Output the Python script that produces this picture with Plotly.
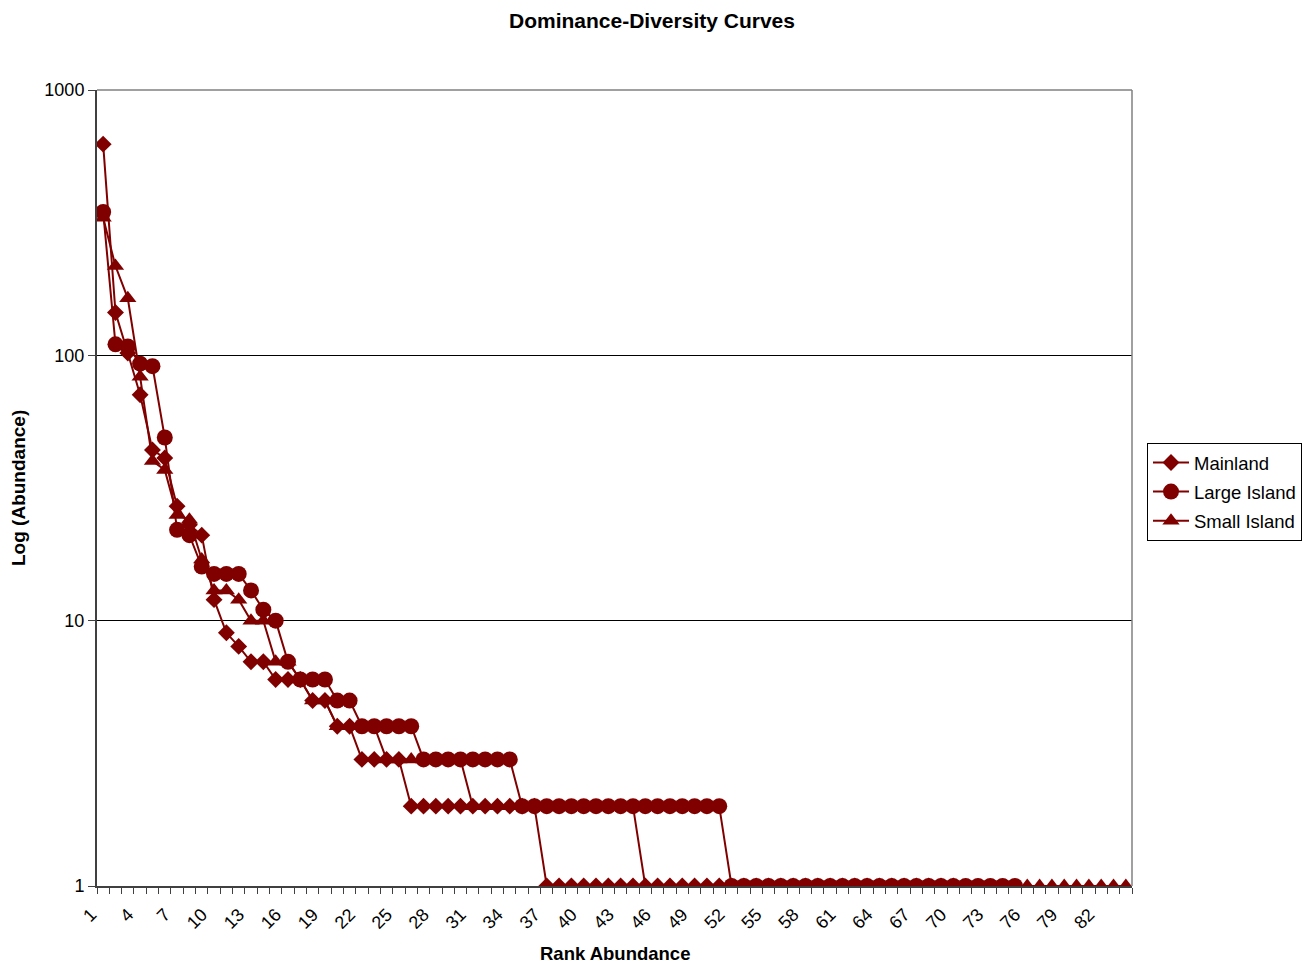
import plotly.graph_objects as go

# ---- data ----
mainland = [625, 145, 102, 71, 44, 41, 27, 23, 21, 12, 9, 8, 7, 7, 6, 6, 6, 5, 5, 4,
            4, 3, 3, 3, 3, 2, 2, 2, 2, 2, 2, 2, 2, 2, 2, 2, 1, 1, 1, 1,
            1, 1, 1, 1, 1, 1, 1, 1, 1, 1, 1, 1, 1, 1, 1, 1, 1, 1, 1, 1,
            1, 1, 1, 1, 1, 1, 1, 1, 1, 1]
large_island = [347, 110, 108, 93, 91, 49, 22, 21, 16, 15, 15, 15, 13, 11, 10, 7, 6, 6, 6, 5,
                5, 4, 4, 4, 4, 4, 3, 3, 3, 3, 3, 3, 3, 3, 2, 2, 2, 2, 2, 2,
                2, 2, 2, 2, 2, 2, 2, 2, 2, 2, 2, 1, 1, 1, 1, 1, 1, 1, 1, 1,
                1, 1, 1, 1, 1, 1, 1, 1, 1, 1, 1, 1, 1, 1, 1]
small_island = [330, 217, 164, 83, 40, 37, 25, 24, 17, 13, 13, 12, 10, 10, 7, 7, 6, 5, 5, 4,
                4, 4, 4, 3, 3, 3, 3, 3, 3, 3, 2, 2, 2, 2, 2, 2, 2, 2, 2, 2,
                2, 2, 2, 2, 1, 1, 1, 1, 1, 1, 1, 1, 1, 1, 1, 1, 1, 1, 1, 1,
                1, 1, 1, 1, 1, 1, 1, 1, 1, 1, 1, 1, 1, 1, 1, 1, 1, 1, 1, 1,
                1, 1, 1, 1]
n_ranks = 84
rank_labels = [1, 4, 7, 10, 13, 16, 19, 22, 25, 28, 31, 34, 37, 40, 43, 46, 49, 52,
               55, 58, 61, 64, 67, 70, 73, 76, 79, 82]
y_ticks = [1, 10, 100, 1000]

COLOR = "#800000"
FONT = "Liberation Sans, Arial, sans-serif"
OFF = 8  # browser body margin

fig = go.Figure()
series = [
    ("Mainland", mainland, "diamond", 13),
    ("Large Island", large_island, "circle", 16),
    ("Small Island", small_island, "triangle-up", 15),
]
for name, vals, sym, size in series:
    fig.add_trace(go.Scatter(
        x=list(range(1, len(vals) + 1)), y=vals, name=name,
        legendgroup=name,
        mode="lines+markers",
        line=dict(color=COLOR, width=2),
        marker=dict(symbol=sym, size=size, color=COLOR, line=dict(width=0)),
    ))

# target page positions
PL, PR, PT, PB = 97, 1132, 90, 886
W, H = 1315 - OFF, 975 - 2 * OFF
L, R, T, B = PL - OFF, PR - OFF, PT - OFF, PB - OFF


def px(xp):
    return (xp - PL) / (PR - PL)


def py(yp):
    return (PB - yp) / (PB - PT)


fig.update_layout(
    width=W, height=H,
    margin=dict(l=L, r=W - R, t=T, b=H - B, autoexpand=False),
    paper_bgcolor="white", plot_bgcolor="white",
    font=dict(family=FONT, size=18, color="black"),
    showlegend=True,
    legend=dict(
        x=px(1147), y=py(443),
        xanchor="left", yanchor="top",
        bordercolor="black", borderwidth=1, bgcolor="white",
        font=dict(family=FONT, size=18.5, color="black"),
        tracegroupgap=2, itemwidth=36,
    ),
)
fig.update_xaxes(
    type="linear", range=[0.5, n_ranks + 0.5],
    tickmode="array", tickvals=rank_labels, ticktext=[str(v) for v in rank_labels],
    tickangle=-45, ticks="", showgrid=False, zeroline=False,
    tickfont=dict(family=FONT, size=18),
    ticklabelshift=-12, ticklabelstandoff=9,
    showline=True, linecolor="#404040", linewidth=2,
    minor=dict(ticks="outside", tickmode="linear", tick0=0.5, dtick=1,
               ticklen=6, tickcolor="#404040", tickwidth=1, showgrid=False),
)
fig.update_yaxes(
    type="log", range=[0, 3],
    tickmode="array", tickvals=y_ticks, ticktext=[str(v) for v in y_ticks],
    ticks="outside", ticklen=7, tickcolor="#404040",
    showgrid=True, gridcolor="black", gridwidth=1,
    showline=True, linecolor="#404040", linewidth=2,
    zeroline=False, tickfont=dict(family=FONT, size=18),
)
# top / right frame
fig.add_shape(type="line", xref="paper", yref="paper", x0=0, x1=1, y0=1, y1=1,
              line=dict(color="#808080", width=1.5))
fig.add_shape(type="line", xref="paper", yref="paper", x0=1, x1=1, y0=0, y1=1,
              line=dict(color="#808080", width=1.5))

fig.add_annotation(text="<b>Dominance-Diversity Curves</b>", xref="paper", yref="paper",
                   x=px(652), y=py(20), showarrow=False,
                   font=dict(family=FONT, size=21), xanchor="center", yanchor="middle")
fig.add_annotation(text="<b>Rank Abundance</b>", xref="paper", yref="paper",
                   x=px(615), y=py(953), showarrow=False,
                   font=dict(family=FONT, size=18.5), xanchor="center", yanchor="middle")
fig.add_annotation(text="<b>Log (Abundance)</b>", xref="paper", yref="paper",
                   x=px(18), y=py(488), showarrow=False,
                   textangle=-90,
                   font=dict(family=FONT, size=19), xanchor="center", yanchor="middle")

fig.write_html("out.html")
